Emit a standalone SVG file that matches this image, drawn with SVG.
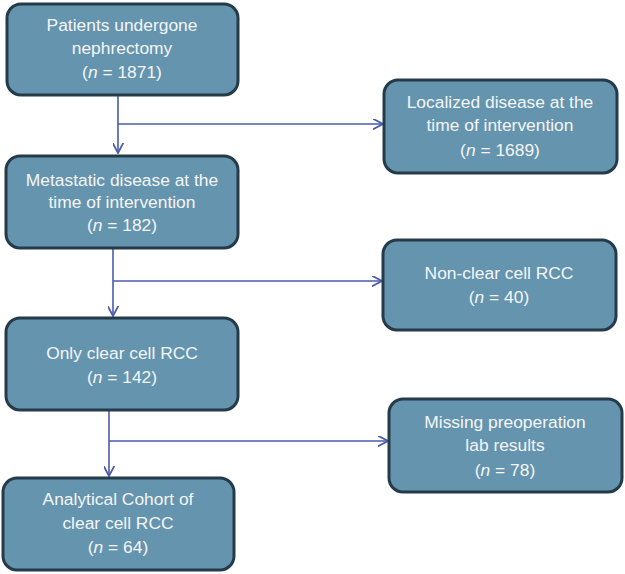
<svg xmlns="http://www.w3.org/2000/svg" width="625" height="574" viewBox="0 0 625 574">
<style>
.box{fill:#6594AE;stroke:#263B4A;stroke-width:3}
.t{font-family:"Liberation Sans",Arial,sans-serif;font-size:17.4px;fill:#F4F6F8;text-anchor:middle}
.c{fill:none;stroke:#4A5BAA;stroke-width:1.6}
</style>
<defs>
<marker id="ah" viewBox="0 0 10 10" refX="9.5" refY="5" markerWidth="11" markerHeight="11" markerUnits="userSpaceOnUse" orient="auto">
<path d="M0,0 L9.5,5 L0,10" fill="none" stroke="#4A5BAA" stroke-width="1.6"/>
</marker>
</defs>
<rect width="625" height="574" fill="#fff"/>
<g id="connectors">
<path class="c" d="M118,95 V153" marker-end="url(#ah)"/>
<path class="c" d="M118,124 H383" marker-end="url(#ah)"/>
<path class="c" d="M113,248 V316" marker-end="url(#ah)"/>
<path class="c" d="M113,281 H382" marker-end="url(#ah)"/>
<path class="c" d="M109,410 V476" marker-end="url(#ah)"/>
<path class="c" d="M109,441 H388" marker-end="url(#ah)"/>
</g>
<g id="n1">
<rect class="box" x="7" y="4" width="231" height="91" rx="14"/>
<text class="t" x="122" y="31">Patients undergone</text>
<text class="t" x="122" y="54">nephrectomy</text>
<text class="t" x="122" y="78">(<tspan font-style="italic">n</tspan> = 1871)</text>
</g>
<g id="n2">
<rect class="box" x="384" y="80" width="233" height="93" rx="14"/>
<text class="t" x="500" y="108">Localized disease at the</text>
<text class="t" x="500" y="131">time of intervention</text>
<text class="t" x="500" y="156">(<tspan font-style="italic">n</tspan> = 1689)</text>
</g>
<g id="n3">
<rect class="box" x="6" y="156" width="232" height="92" rx="14"/>
<text class="t" x="122" y="186">Metastatic disease at the</text>
<text class="t" x="122" y="208">time of intervention</text>
<text class="t" x="122" y="231">(<tspan font-style="italic">n</tspan> = 182)</text>
</g>
<g id="n4">
<rect class="box" x="383" y="240" width="233" height="90" rx="14"/>
<text class="t" x="499" y="279">Non-clear cell RCC</text>
<text class="t" x="499" y="303">(<tspan font-style="italic">n</tspan> = 40)</text>
</g>
<g id="n5">
<rect class="box" x="6" y="318" width="232" height="92" rx="14"/>
<text class="t" x="122" y="359">Only clear cell RCC</text>
<text class="t" x="122" y="383">(<tspan font-style="italic">n</tspan> = 142)</text>
</g>
<g id="n6">
<rect class="box" x="389" y="399" width="233" height="93" rx="14"/>
<text class="t" x="505" y="428">Missing preoperation</text>
<text class="t" x="505" y="451">lab results</text>
<text class="t" x="505" y="476">(<tspan font-style="italic">n</tspan> = 78)</text>
</g>
<g id="n7">
<rect class="box" x="3" y="478" width="231" height="92" rx="14"/>
<text class="t" x="118" y="505">Analytical Cohort of</text>
<text class="t" x="118" y="529">clear cell RCC</text>
<text class="t" x="118" y="553">(<tspan font-style="italic">n</tspan> = 64)</text>
</g>
</svg>
